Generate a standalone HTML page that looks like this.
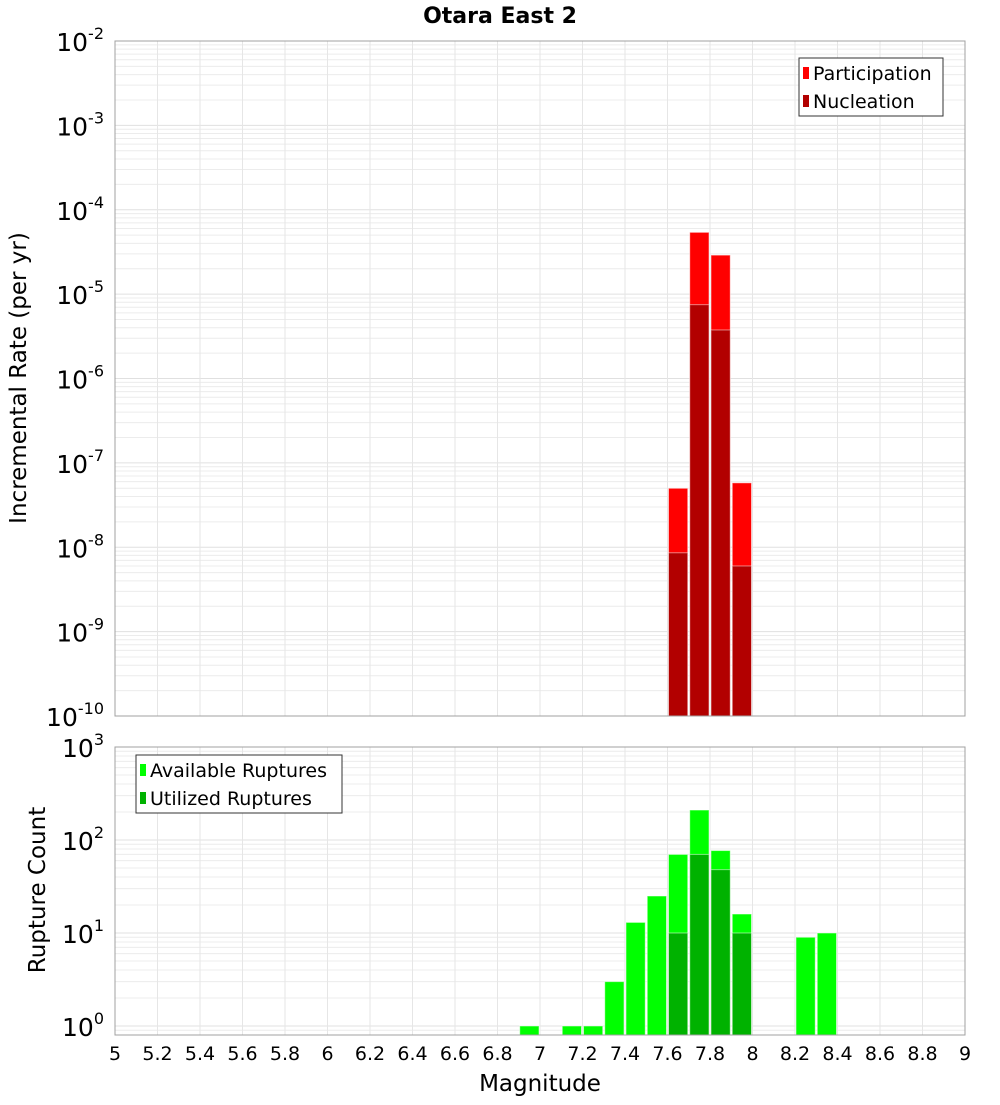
<!DOCTYPE html>
<html><head><meta charset="utf-8"><style>
body{margin:0;background:#fff;}
svg text{font-family:"DejaVu Sans","Liberation Sans",sans-serif;}
</style></head><body>
<svg id="c" width="1000" height="1100" xmlns="http://www.w3.org/2000/svg"></svg>
<script>
const topBins=[7.65,7.75,7.85,7.95];
const participation=[5e-8,5.4e-5,2.9e-5,5.8e-8];
const nucleation=[8.6e-9,7.5e-6,3.76e-6,6e-9];
const botBinsAvail=[6.95,7.15,7.25,7.35,7.45,7.55,7.65,7.75,7.85,7.95,8.25,8.35];
const available=[1,1,1,3,13,25,70,210,77,16,9,10];
const botBinsUtil=[7.65,7.75,7.85,7.95];
const utilized=[10,70,48,10];
const xTicks=[5,5.2,5.4,5.6,5.8,6,6.2,6.4,6.6,6.8,7,7.2,7.4,7.6,7.8,8,8.2,8.4,8.6,8.8,9];

const NS="http://www.w3.org/2000/svg";
const svg=document.getElementById('c');
function mk(t,a,p){const e=document.createElementNS(NS,t);for(const k in a)e.setAttribute(k,a[k]);(p||svg).appendChild(e);return e;}
const X0=115,X1=965;
const x=v=>X0+(v-5)/4*(X1-X0);
const T0=41,T1=716; const yT=v=>T1-(Math.log10(v)+10)/8*(T1-T0);
const B0=747,B1=1035; const yB=v=>1026-Math.log10(v)*93;

function grid(top,bot,yfun,dmin,dmax){
  for(let d=dmin;d<dmax;d++)for(let m=1;m<10;m++){const v=m*Math.pow(10,d);const yy=yfun(v);if(yy<top-0.5||yy>bot+0.5)continue;
    const l=mk('line',{x1:X0,x2:X1,y1:yy,y2:yy,stroke:m==1?'#e0e0e0':'#ececec','stroke-width':1});
    }
  xTicks.forEach(t=>{const l=mk('line',{x1:x(t),x2:x(t),y1:top,y2:bot,stroke:'#e6e6e6','stroke-width':1});
    });
}
grid(T0,T1,yT,-10,-1);
grid(B0,B1,yB,-1,3);
function bar(c,v,yf,base,fill,name){
  const yy=yf(v);const r=mk('rect',{x:x(c-0.05)+1,y:yy,width:x(c+0.05)-x(c-0.05)-2,height:base-yy,fill:fill,stroke:'rgba(255,255,255,0.5)','stroke-width':1});
  
}
topBins.forEach((c,i)=>bar(c,participation[i],yT,T1,'#ff0000','participation-bar'));
topBins.forEach((c,i)=>bar(c,nucleation[i],yT,T1,'#b20000','nucleation-bar'));
botBinsAvail.forEach((c,i)=>bar(c,available[i],yB,B1,'#00ff00','available-bar'));
botBinsUtil.forEach((c,i)=>bar(c,utilized[i],yB,B1,'#00b200','utilized-bar'));
let f=mk('rect',{x:X0,y:T0,width:X1-X0,height:T1-T0,fill:'none',stroke:'#a0a0a0'});

f=mk('rect',{x:X0,y:B0,width:X1-X0,height:B1-B0,fill:'none',stroke:'#a0a0a0'});

function txt(s,a,name){const t=mk('text',a);t.textContent=s;return t;}
function pow(e,yy,name){const t=mk('text',{x:104,y:yy,'text-anchor':'end','font-size':25,fill:'#000'});
  
  const a=mk('tspan',{},t);a.textContent='10';const b=mk('tspan',{dy:-12,'font-size':16},t);b.textContent=String(e);}
for(let e=-2;e>=-10;e--)pow(e,yT(Math.pow(10,e))+10,'top-y-tick-label');
for(let e=0;e<=3;e++)pow(e,yB(Math.pow(10,e))+10,'bottom-y-tick-label');
xTicks.forEach(t=>txt(String(Math.round(t*10)/10),{x:x(t),y:1060,'text-anchor':'middle','font-size':19,fill:'#000'},'x-tick-label'));
txt('Otara East 2',{x:500,y:23,'text-anchor':'middle','font-size':22,'font-weight':'bold'},'chart-title');
txt('Magnitude',{x:540,y:1091,'text-anchor':'middle','font-size':23},'x-axis-title');
txt('Incremental Rate (per yr)',{x:26,y:378,'text-anchor':'middle','font-size':23,transform:'rotate(-90 26 378)'},'top-y-axis-title');
txt('Rupture Count',{x:45,y:890,'text-anchor':'middle','font-size':23,transform:'rotate(-90 45 890)'},'bottom-y-axis-title');
function legend(bx,by,w,items,name){
  const g=mk('g',{});
  mk('rect',{x:bx,y:by,width:w,height:58,fill:'#fff',stroke:'#333'},g);
  items.forEach((it,i)=>{
    const s=mk('rect',{x:bx+4,y:by+9+i*28,width:6,height:12,fill:it[1]},g);
    
    const t=mk('text',{x:bx+14,y:by+22+i*28,'font-size':19},g);t.textContent=it[0];
    
  });
}
legend(799,58,144,[['Participation','#ff0000'],['Nucleation','#b20000']],'top-legend');
legend(136,755,206,[['Available Ruptures','#00ff00'],['Utilized Ruptures','#00b200']],'bottom-legend');
</script>
</body></html>
